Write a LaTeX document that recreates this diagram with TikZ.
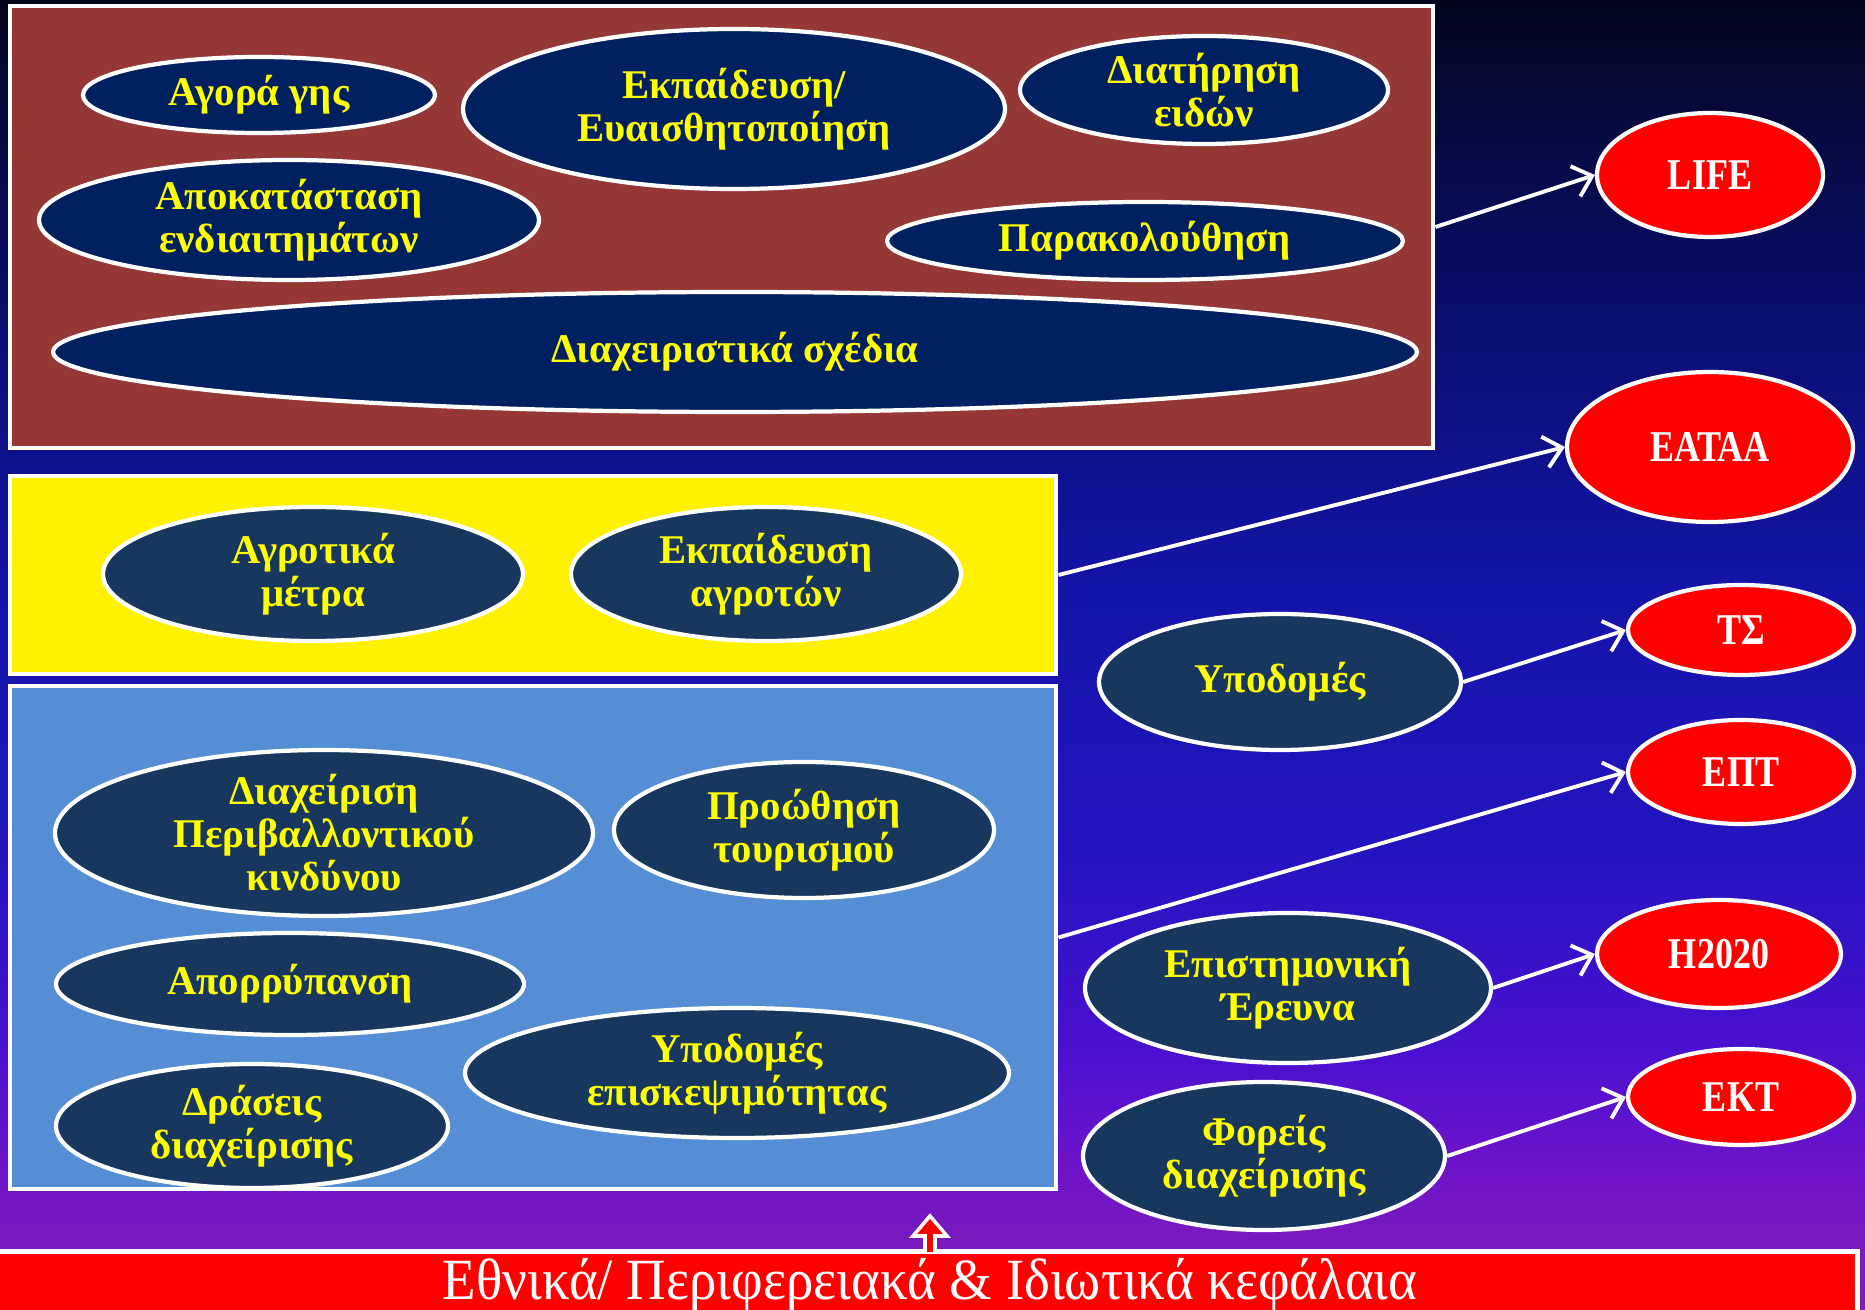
\documentclass[tikz,border=0pt]{standalone}
\usepackage{fontspec}
\setmainfont{Liberation Serif}
\newfontfamily\redfont[FakeStretch=0.82]{Liberation Serif}
\newfontfamily\barfont[FakeStretch=0.94]{Liberation Serif}
\usetikzlibrary{shapes.geometric,arrows.meta}
\definecolor{brownbox}{HTML}{953735}
\definecolor{navyell}{HTML}{002060}
\definecolor{slateell}{HTML}{17375E}
\definecolor{lightblue}{HTML}{558ED5}
\definecolor{txtyellow}{HTML}{FFFF00}
\pgfdeclareverticalshading{bgshade}{100bp}{%
  color(0bp)=(rgb,255:red,138;green,34;blue,176);
  color(25bp)=(rgb,255:red,130;green,32;blue,178);
  color(30bp)=(rgb,255:red,112;green,20;blue,200);
  color(35bp)=(rgb,255:red,74;green,16;blue,208);
  color(42.5bp)=(rgb,255:red,36;green,20;blue,192);
  color(52.5bp)=(rgb,255:red,20;green,20;blue,168);
  color(62.5bp)=(rgb,255:red,10;green,14;blue,112);
  color(70bp)=(rgb,255:red,6;green,10;blue,64);
  color(75bp)=(rgb,255:red,3;green,5;blue,28);
  color(100bp)=(rgb,255:red,3;green,5;blue,28)}
\tikzset{
  ellbase/.style={ellipse, draw=white, line width=1.2pt, inner sep=0pt},
  navy/.style={ellbase, fill=navyell},
  slate/.style={ellbase, fill=slateell},
  redell/.style={ellbase, fill=red},
  navy text/.style={text=txtyellow, font=\bfseries\fontsize{11.6}{12.2}\selectfont, align=center, inner sep=0pt},
  slate text/.style={navy text},
  redell text/.style={text=white, font=\redfont\bfseries\fontsize{12.5}{13}\selectfont, align=center, inner sep=0pt},
  panel/.style={rectangle, draw=white, line width=1.4pt, inner sep=0pt},
  link/.style={draw=white, line width=1.1pt, -{Straight Barb[length=5pt,width=9pt,line width=1.1pt]}}
}
\newcommand\ellnode[7]{%
  \node[#6, minimum width=#4*0.2mm, minimum height=#5*0.2mm] (#1) at (#2,#3) {};
  \node[#6 text] (#1-t) at (#1.center) {#7};}
\begin{document}
\begin{tikzpicture}[x=0.1mm, y=-0.1mm]
\useasboundingbox (0,0) rectangle (1865,1310);
\shade[shading=bgshade] (0,0) rectangle (1865,1310);

% panels
\node[panel, fill=brownbox, minimum width=142.3mm, minimum height=44.2mm] (brown) at (721.5,227) {};
\node[panel, fill=yellow, minimum width=104.6mm, minimum height=19.8mm] (yellowbox) at (533,575) {};
\node[panel, fill=lightblue, minimum width=104.6mm, minimum height=50.3mm] (bluebox) at (533,937.5) {};

% brown panel ellipses
\ellnode{agora}{259}{95}{176}{38}{navy}{Αγορά γης}
\ellnode{ekp}{734}{109}{271}{80}{navy}{Εκπαίδευση/\\Ευαισθητοποίηση}
\ellnode{diat}{1204}{90}{184}{54}{navy}{Διατήρηση\\ειδών}
\ellnode{apok}{289}{220}{250}{60}{navy}{Αποκατάσταση\\ενδιαιτημάτων}
\ellnode{parak}{1145}{241}{258}{39}{navy}{Παρακολούθηση}
\ellnode{sxedia}{735}{352}{682}{60}{navy}{Διαχειριστικά σχέδια}

% yellow panel ellipses
\ellnode{agrot}{313}{574}{210}{67}{slate}{Αγροτικά\\μέτρα}
\ellnode{ekpagr}{766}{574}{195}{67}{slate}{Εκπαίδευση\\αγροτών}

% blue panel ellipses
\ellnode{kind}{324}{833}{269}{83}{slate}{Διαχείριση\\Περιβαλλοντικού\\κινδύνου}
\ellnode{tour}{804}{830}{190}{68}{slate}{Προώθηση\\τουρισμού}
\ellnode{apor}{290}{984}{234}{51}{slate}{Απορρύπανση}
\ellnode{episk}{737}{1073}{272}{65}{slate}{Υποδομές\\επισκεψιμότητας}
\ellnode{drase}{252}{1126}{196}{62}{slate}{Δράσεις\\διαχείρισης}

% right dark ellipses
\ellnode{ypod}{1280}{682}{181}{68}{slate}{Υποδομές}
\ellnode{erev}{1288}{988}{203}{75}{slate}{Επιστημονική\\Έρευνα}
\ellnode{forei}{1264}{1156}{181}{74}{slate}{Φορείς\\διαχείρισης}

% red ellipses
\ellnode{life}{1710}{175}{113}{62}{redell}{LIFE}
\ellnode{eataa}{1710}{447}{143}{75}{redell}{ΕΑΤΑΑ}
\ellnode{ts}{1741}{630}{113}{45}{redell}{ΤΣ}
\ellnode{ept}{1741}{772}{113}{52}{redell}{ΕΠΤ}
\ellnode{h2020}{1719}{954}{122}{54}{redell}{Η2020}
\ellnode{ekt}{1741}{1097}{113}{48}{redell}{ΕΚΤ}

% connectors
\draw[link] (brown.east) -- (life.west);
\draw[link] (yellowbox.east) -- (eataa.west);
\draw[link] (ypod.east) -- (ts.west);
\draw[link] (bluebox.east) -- (ept.west);
\draw[link] (erev.east) -- (h2020.west);
\draw[link] (forei.east) -- (ekt.west);

% bottom bar
\node[rectangle, fill=red, draw=white, line width=1.4pt, inner sep=0pt,
      minimum width=186.5mm, minimum height=8mm, anchor=north west] (bar) at (-10,1249) {};
\node[text=white, font=\barfont\fontsize{16.6}{17}\selectfont, inner sep=0pt] (bartext) at (930,1285) {Εθνικά/ Περιφερειακά \& Ιδιωτικά κεφάλαια};
\draw[white, line width=1pt, fill=red, line join=miter]
  (925,1252) -- (925,1236) -- (913,1236) -- (930,1216)
  -- (947,1236) -- (935,1236) -- (935,1252);
\end{tikzpicture}
\end{document}
